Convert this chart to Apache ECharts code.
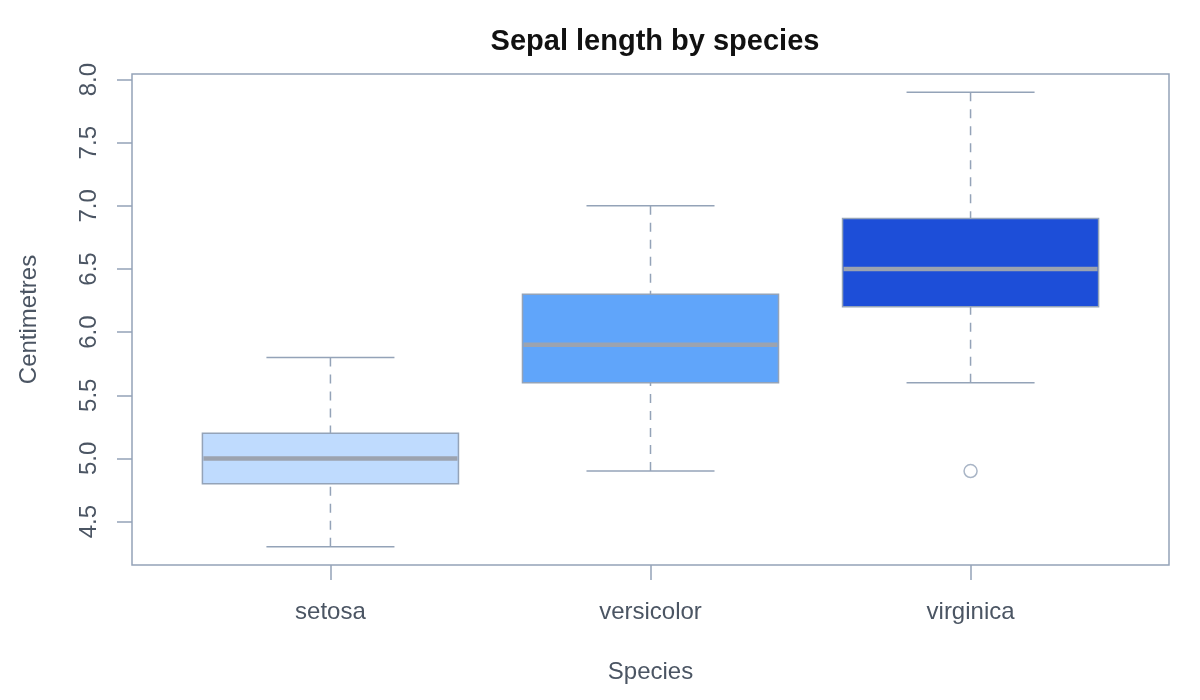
<!DOCTYPE html>
<html>
<head>
<meta charset="utf-8">
<script src="https://cdn.jsdelivr.net/npm/echarts@6/dist/echarts.min.js"></script>
<style>
html,body{margin:0;padding:0;background:#fff;}
#chart{width:1200px;height:700px;}
</style>
</head>
<body>
<div id="chart"></div>
<script>
// ---- data ----
const species = ['setosa', 'versicolor', 'virginica'];
const whiskerLow = [4.3, 4.9, 5.6];
const q1 = [4.8, 5.6, 6.2];
const median = [5.0, 5.9, 6.5];
const q3 = [5.2, 6.3, 6.9];
const whiskerHigh = [5.8, 7.0, 7.9];
const outlierSpecies = ['virginica'];
const outlierValues = [4.9];
const yTicks = [4.5, 5.0, 5.5, 6.0, 6.5, 7.0, 7.5, 8.0];

// ---- styles ----
const boxColors = ['#bfdbfe', '#60a5fa', '#1d4ed8'];
const lineColor = '#94a3b8';
const medianColor = '#9ca3af';
const textColor = '#4b5563';
const font = "'Liberation Sans', Arial, Helvetica, sans-serif";

const xPos = species.map((s, i) => i + 1);
const boxData = species.map((s, i) => [xPos[i], whiskerLow[i], q1[i], median[i], q3[i], whiskerHigh[i], i]);
const outlierData = outlierSpecies.map((s, i) => [species.indexOf(s) + 1, outlierValues[i]]);

function renderBox(params, api) {
  const x = api.value(0);
  const lo = api.coord([x, api.value(1)]);
  const b1 = api.coord([x, api.value(2)]);
  const md = api.coord([x, api.value(3)]);
  const b3 = api.coord([x, api.value(4)]);
  const hi = api.coord([x, api.value(5)]);
  const idx = api.value(6);
  const w = api.size([0.8, 0])[0];
  const cx = lo[0];
  const dash = { stroke: lineColor, lineWidth: 1.5, lineDash: [9, 8] };
  const solid = { stroke: lineColor, lineWidth: 1.5 };
  return {
    type: 'group',
    children: [
      { type: 'line', shape: { x1: cx, y1: hi[1], x2: cx, y2: b3[1] }, style: dash },
      { type: 'line', shape: { x1: cx, y1: lo[1], x2: cx, y2: b1[1] }, style: dash },
      { type: 'line', shape: { x1: cx - w / 4, y1: hi[1], x2: cx + w / 4, y2: hi[1] }, style: solid },
      { type: 'line', shape: { x1: cx - w / 4, y1: lo[1], x2: cx + w / 4, y2: lo[1] }, style: solid },
      { type: 'rect', shape: { x: cx - w / 2, y: b3[1], width: w, height: b1[1] - b3[1] },
        style: { fill: boxColors[idx], stroke: lineColor, lineWidth: 1.5 } },
      { type: 'line', shape: { x1: cx - w / 2 + 1, y1: md[1], x2: cx + w / 2 - 1, y2: md[1] },
        style: { stroke: medianColor, lineWidth: 4.5 } }
    ]
  };
}

const chart = echarts.init(document.getElementById('chart'), null, { renderer: 'canvas' });
chart.setOption({
  backgroundColor: '#ffffff',
  animation: false,
  title: {
    text: 'Sepal length by species',
    left: 650, top: 22, textAlign: 'center',
    textStyle: { fontFamily: font, fontSize: 29, fontWeight: 'bold', color: '#111111' }
  },
  grid: {
    left: 132, right: 31, top: 74, bottom: 135,
    show: true, borderColor: lineColor, borderWidth: 1.5,
    containLabel: false, outerBoundsMode: 'none'
  },
  xAxis: {
    type: 'value', min: 0.38, max: 3.62,
    name: 'Species', nameLocation: 'middle', nameGap: 95,
    nameTextStyle: { fontFamily: font, fontSize: 24, color: textColor },
    axisLine: { show: false },
    splitLine: { show: false },
    axisTick: { show: true, length: 15, customValues: xPos, lineStyle: { color: lineColor, width: 1.5 } },
    axisLabel: { customValues: xPos, margin: 35, fontFamily: font, fontSize: 24, color: textColor,
      formatter: v => species[Math.round(v) - 1] || '' }
  },
  yAxis: {
    type: 'value', min: 4.156, max: 8.044,
    name: 'Centimetres', nameLocation: 'middle', nameGap: 91, nameRotate: 90,
    nameTextStyle: { fontFamily: font, fontSize: 24, color: textColor },
    axisLine: { show: false },
    splitLine: { show: false },
    axisTick: { show: true, length: 15, customValues: yTicks, lineStyle: { color: lineColor, width: 1.5 } },
    axisLabel: { customValues: yTicks, rotate: 90, margin: 31, fontFamily: font, fontSize: 24, color: textColor,
      formatter: v => Number(v).toFixed(1) }
  },
  series: [
    {
      type: 'custom',
      renderItem: renderBox,
      data: boxData,
      encode: { x: 0, y: [1, 2, 3, 4, 5] }
    },
    {
      type: 'scatter',
      data: outlierData,
      symbol: 'circle',
      symbolSize: 13,
      itemStyle: { color: '#ffffff', borderColor: lineColor, borderWidth: 1.5 }
    }
  ]
});
</script>
</body>
</html>
